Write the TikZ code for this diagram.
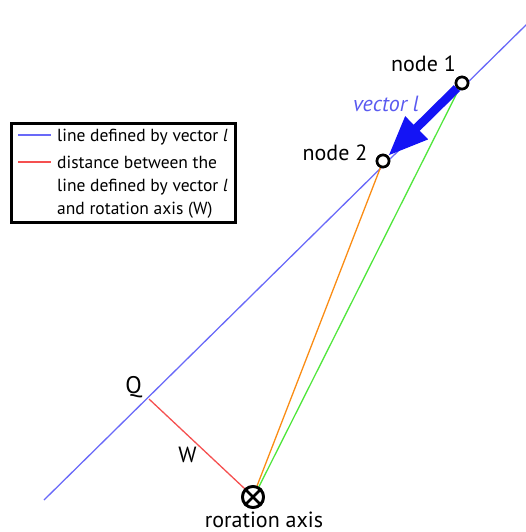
\documentclass[tikz,border=0pt]{standalone}
\usepackage{fontspec}
\setmainfont{PT Sans}
\usetikzlibrary{arrows.meta}
\definecolor{lineblue}{RGB}{105,105,248}
\definecolor{vecblue}{RGB}{20,20,245}
\definecolor{labblue}{RGB}{90,90,240}
\definecolor{distred}{RGB}{245,80,80}
\definecolor{orangeline}{RGB}{250,140,20}
\definecolor{greenline}{RGB}{80,230,60}
\tikzset{
  nodecirc/.style={circle, draw=black, fill=white, line width=2.6pt, minimum size=12pt, inner sep=0pt},
  axiscirc/.style={circle, draw=black, fill=white, line width=2.8pt, minimum size=21pt, inner sep=0pt},
  lbl/.style={font=\fontsize{22}{24}\selectfont, text=black, inner sep=0pt, anchor=base},
  legtext/.style={font=\fontsize{17.5}{23}\selectfont, align=left, inner sep=0pt, anchor=base west},
  thin line/.style={line width=1.3pt}
}
\begin{document}
\begin{tikzpicture}[x=1pt,y=-1pt]
\useasboundingbox (0,0) rectangle (526,532);
% main line
\coordinate (la) at (44,500);
\coordinate (lb) at (528,23);
\coordinate (Q) at (149,399);
\draw[lineblue, thin line] (la) -- (lb);
% rotation axis
\node[axiscirc] (ax) at (253,497) {};
\node[nodecirc] (n1) at (462,83) {};
\node[nodecirc] (n2) at (383,161) {};
% connectors
\draw[orangeline, thin line] (n2) -- (ax.70);
\draw[greenline, thin line] (n1) -- (ax.60);
\draw[distred, thin line] (Q) -- (ax.135);
\draw[vecblue, line width=8.5pt, -{Triangle[length=40pt,width=30pt]}] (n1) -- (n2);
% redraw circles on top
\node[nodecirc] at (n1) {};
\node[nodecirc] at (n2) {};
\node[axiscirc] at (ax) {};
\draw[line width=2.8pt] (ax.45) -- (ax.225) (ax.135) -- (ax.315);
% labels
\node[lbl] (t1) at (423.5,72) {node 1};
\node[lbl] (t2) at (335,160) {node 2};
\node[lbl, text=labblue, font=\fontsize{22}{24}\selectfont\itshape] (tv) at (386,112) {vector l};
\node[lbl, font=\fontsize{24}{26}\selectfont] (tq) at (133.5,393) {Q};
\node[lbl] (tw) at (187.5,462) {W};
\node[lbl] (tax) at (264,527) {roration axis};
% legend
\node[draw=black, line width=2.8pt, minimum width=224pt, minimum height=99pt, anchor=north west, inner sep=0pt] (leg) at (10,122) {};
\coordinate (b1) at (18,135);
\coordinate (b2) at (51,135);
\coordinate (r1) at (18,162);
\coordinate (r2) at (51,162);
\draw[lineblue, thin line] (b1) -- (b2);
\draw[distred, thin line] (r1) -- (r2);
\node[legtext] (lt1) at (57,141) {line defined by vector \textit{l}};
\node[legtext] (lt2a) at (57,168) {distance between the};
\node[legtext] (lt2b) at (57,191) {line defined by vector \textit{l}};
\node[legtext] (lt2c) at (57,214) {and rotation axis (W)};
\end{tikzpicture}
\end{document}
